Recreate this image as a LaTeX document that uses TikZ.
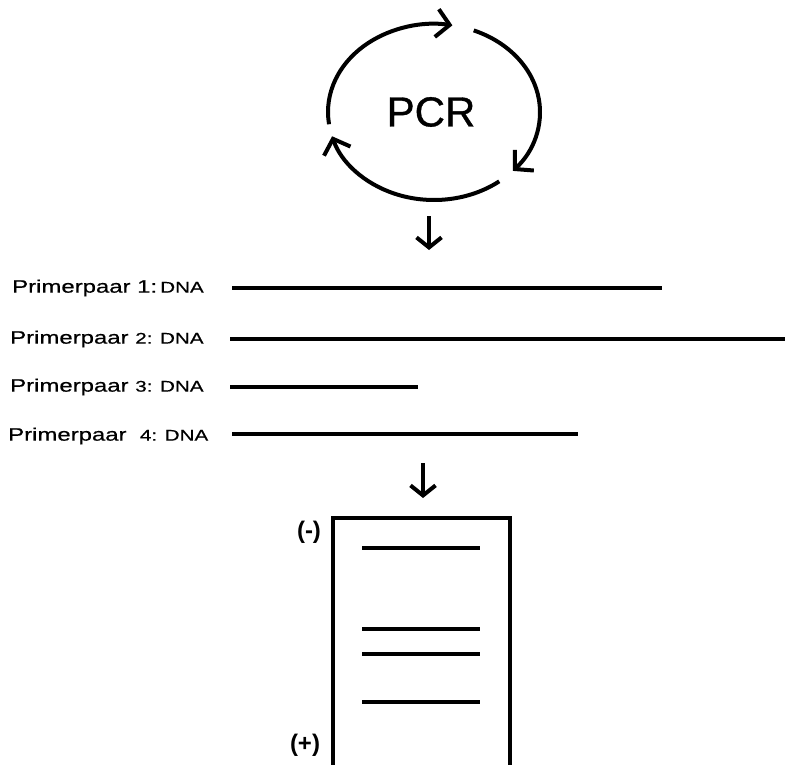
\documentclass[tikz,border=0pt]{standalone}
\usepackage{fontspec}
\setmainfont{Liberation Sans}
\newfontfamily\primerfont[FakeStretch=1.33,FakeBold=0.6]{Liberation Sans}
\newfontfamily\pcrfont[FakeBold=0.8]{Liberation Sans}
\usetikzlibrary{positioning,arrows.meta}
\tikzset{
  cyclearc/.style={line width=4pt,-{Straight Barb[length=13pt,width=28pt]}},
  downarrow/.style={line width=4pt,-{Straight Barb[length=10pt,width=25pt]}},
  primer/.style={anchor=west,inner sep=0pt,font=\primerfont\fontsize{18}{20}\selectfont},
  dnaline/.style={line width=3.6pt},
  gelbox/.style={line width=4.2pt},
  band/.style={line width=3.8pt},
  pole/.style={font=\bfseries\fontsize{24}{26}\selectfont,inner sep=0pt}
}
\newcommand{\dnasmall}[1]{{\fontsize{15.5}{17}\selectfont #1}}

\begin{document}
\begin{tikzpicture}[x=1pt,y=-1pt]
  \useasboundingbox[fill=white] (0,0) rectangle (785,765);
  % PCR cycle
  \coordinate (cyc) at (434,112);
  \node[font=\pcrfont\fontsize{42}{44}\selectfont,inner sep=0pt] (pcr) at (431,112) {PCR};
  \draw[cyclearc] (cyc) ++(188:106pt and 88pt) arc[start angle=188,end angle=80,x radius=106pt,y radius=88pt];
  \draw[cyclearc] (cyc) ++(68:106pt and 88pt) arc[start angle=68,end angle=-42,x radius=106pt,y radius=88pt];
  \draw[cyclearc] (cyc) ++(-52:106pt and 88pt) arc[start angle=-52,end angle=-164,x radius=106pt,y radius=88pt];
  \coordinate (a1top) at (429,216);
  \coordinate (a1bot) at (429,250);
  \draw[downarrow] (a1top) -- (a1bot);

  % primer pairs
  \node[primer] (pp1) at (12,288) {Primerpaar 1:\,\dnasmall{DNA}};
  \node[primer] (pp2) at (10,339) {Primerpaar \dnasmall{2: DNA}};
  \node[primer] (pp3) at (10,387) {Primerpaar \dnasmall{3: DNA}};
  \node[primer] (pp4) at (8,436) {Primerpaar \ \dnasmall{4: DNA}};
  \draw[dnaline] (232,288) coordinate (d1) -- (662,288) coordinate (e1);
  \draw[dnaline] (230,339) coordinate (d2) -- (785,339) coordinate (e2);
  \draw[dnaline] (230,387) coordinate (d3) -- (418,387) coordinate (e3);
  \draw[dnaline] (232,434) coordinate (d4) -- (578,434) coordinate (e4);
  \coordinate (a2top) at (423,463);
  \coordinate (a2bot) at (423,498);
  \draw[downarrow] (a2top) -- (a2bot);

  % gel
  \draw[gelbox] (333,770) -- (333,518) -- (510,518) -- (510,770);
  \node[pole] (minus) at (309,532) {(-)};
  \node[pole] (plus) at (305,745) {(+)};
  \foreach \y in {548,629,654,702}
    \draw[band] (362,\y) -- (480,\y);
\end{tikzpicture}
\end{document}
